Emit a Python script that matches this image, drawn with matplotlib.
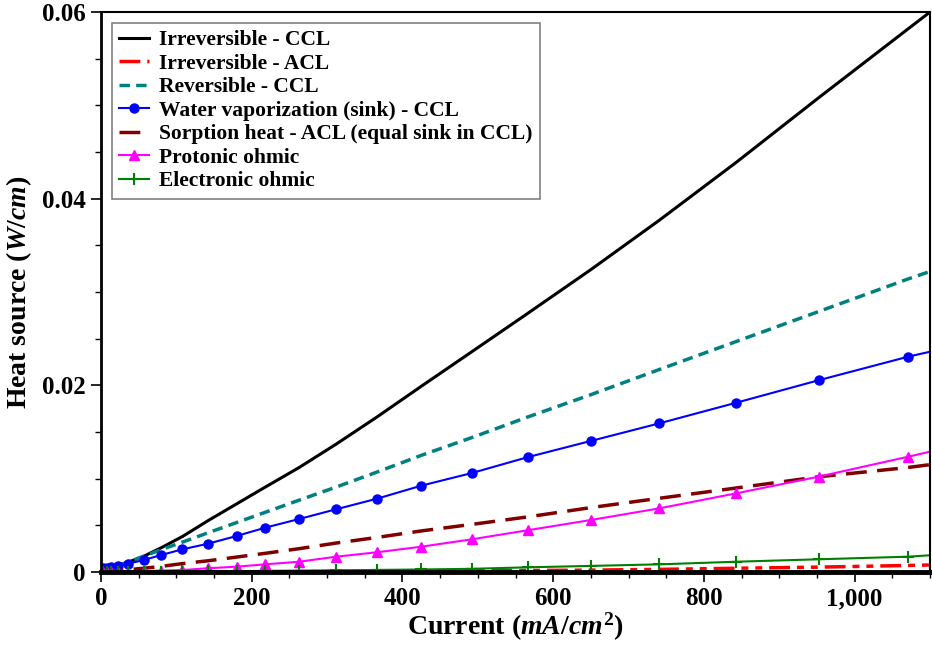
import matplotlib
matplotlib.use("Agg")
import matplotlib.pyplot as plt
from matplotlib.ticker import MultipleLocator, FuncFormatter

plt.rcParams['font.family'] = ['Liberation Serif', 'DejaVu Serif']
plt.rcParams['font.weight'] = 'bold'
plt.rcParams['mathtext.fontset'] = 'custom'
plt.rcParams['mathtext.rm'] = 'Liberation Serif:bold'
plt.rcParams['mathtext.it'] = 'Liberation Serif:bold:italic'
plt.rcParams['mathtext.bf'] = 'Liberation Serif:bold'

# current density grid (mA/cm2)
current = [2, 7.5, 13, 22, 36, 57, 80, 108, 142, 180, 218, 263, 312, 366,
           425, 492, 566, 650, 741, 843, 952, 1071, 1100]

irrev_ccl = [0.0002, 0.00043, 0.00054, 0.00072, 0.00105, 0.0017, 0.0026, 0.0038,
             0.0055, 0.0073, 0.0091, 0.0112, 0.0137, 0.0166, 0.0199, 0.0236,
             0.0277, 0.0324, 0.0377, 0.0439, 0.0508, 0.0582, 0.0600]
irrev_acl = [0, 0, 0, 0, 0, 0.00001, 0.00001, 0.00001, 0.00002, 0.00002, 0.00003,
             0.00003, 0.00005, 0.00007, 0.0001, 0.00012, 0.00016, 0.0002,
             0.00028, 0.0004, 0.00052, 0.0007, 0.00075]
rev_ccl = [0.0003, 0.0004, 0.0005, 0.0007, 0.00105, 0.0017, 0.0024, 0.0032,
           0.0042, 0.0053, 0.0064, 0.0077, 0.0091, 0.0107, 0.0125, 0.0144,
           0.0166, 0.0190, 0.0217, 0.0247, 0.0279, 0.0314, 0.0322]
water_vap = [0.0004, 0.00043, 0.00054, 0.00068, 0.00089, 0.00129, 0.00182,
             0.00243, 0.00303, 0.00386, 0.00475, 0.00568, 0.00672, 0.00785,
             0.00925, 0.0106, 0.0123, 0.01404, 0.01593, 0.01814, 0.02054,
             0.02307, 0.0236]
sorption = [0.0, 0.00005, 0.0001, 0.00015, 0.00025, 0.0004, 0.0006, 0.0009,
            0.0012, 0.0016, 0.0020, 0.0025, 0.0031, 0.0037, 0.0044, 0.0051,
            0.0059, 0.0069, 0.0079, 0.0090, 0.0102, 0.0112, 0.0115]
protonic = [0, 0.00001, 0.00002, 0.00003, 0.00005, 0.0001, 0.00015, 0.00021,
            0.0004, 0.00057, 0.00082, 0.0011, 0.00164, 0.00211, 0.00271,
            0.0035, 0.00447, 0.00557, 0.00682, 0.00843, 0.01021, 0.01235, 0.01289]
electronic = [0, 0, 0.00001, 0.00001, 0.00002, 0.00003, 0.00004, 0.00006,
              0.00008, 0.0001, 0.00012, 0.00015, 0.00018, 0.00022, 0.00027,
              0.00034, 0.0005, 0.00065, 0.00082, 0.0011, 0.00136, 0.00164, 0.00179]

fig = plt.figure(figsize=(9.32, 6.45), dpi=100)
ax = fig.add_axes([0.1084, 0.1132, 0.8895, 0.8682])

mk = slice(0, -1)
ax.plot(current, irrev_ccl, color='black', lw=2.2, label='Irreversible - CCL')
ax.plot(current, irrev_acl, color='#ff0000', lw=2.5, dashes=[6, 2, 2, 2, 2, 2],
        label='Irreversible - ACL')
ax.plot(current, rev_ccl, color='#008080', lw=2.5, dashes=[3, 1.8],
        label='Reversible - CCL')
ax.plot(current, water_vap, color='#0000ff', lw=1.5, marker='o', ms=6.5,
        markevery=mk, label='Water vaporization (sink) - CCL')
ax.plot(current, sorption, color='#800000', lw=2.5, dashes=[6, 3],
        label='Sorption heat - ACL (equal sink in CCL)')
ax.plot(current, protonic, color='#ff00ff', lw=1.5, marker='^', ms=7,
        markevery=mk, label='Protonic ohmic')
ax.plot(current, electronic, color='#008000', lw=1.5, marker='+', ms=9, mew=1.5,
        markevery=mk, label='Electronic ohmic')

ax.set_xlim(0, 1100)
ax.set_ylim(0, 0.06)
ax.xaxis.set_major_locator(MultipleLocator(200))
ax.xaxis.set_minor_locator(MultipleLocator(50))
ax.yaxis.set_major_locator(MultipleLocator(0.02))
ax.yaxis.set_minor_locator(MultipleLocator(0.005))
ax.xaxis.set_major_formatter(FuncFormatter(lambda v, p: f"{int(v):,}"))
ax.yaxis.set_major_formatter(FuncFormatter(lambda v, p: "0" if v == 0 else f"{v:.2f}"))

ax.tick_params(which='major', direction='out', length=7, width=1.2,
               labelsize=18, pad=4)
ax.tick_params(which='minor', direction='out', length=4, width=1)
for lab in ax.get_xticklabels() + ax.get_yticklabels():
    lab.set_fontweight('bold')

ax.spines['bottom'].set_linewidth(3.5)
ax.spines['left'].set_linewidth(2)
ax.spines['top'].set_linewidth(1.5)
ax.spines['right'].set_linewidth(1.5)

ax.set_xlabel(r'Current $\mathit{(mA/cm^2)}$', fontsize=20, fontweight='bold',
              labelpad=0)
ax.set_ylabel(r'Heat source $\mathit{(W/cm)}$', fontsize=20, fontweight='bold',
              labelpad=6)

leg = ax.legend(loc='upper left', bbox_to_anchor=(0.0, 1.0), borderaxespad=0.5,
                fancybox=False, edgecolor='#808080', framealpha=1,
                handlelength=1.4, handletextpad=0.45, labelspacing=0.16,
                borderpad=0.35, prop={'weight': 'bold', 'size': 15.5})
leg.get_frame().set_linewidth(1.2)

fig.savefig('out.png', dpi=100)
